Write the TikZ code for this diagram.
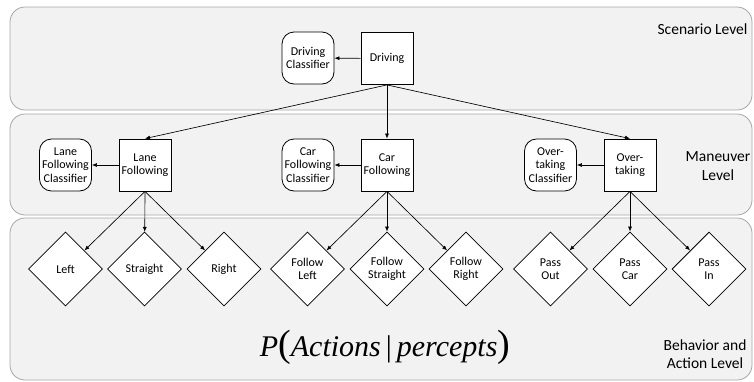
\documentclass[tikz,border=0pt]{standalone}
\usepackage{fontspec}
\setmainfont{Carlito}
\newfontfamily\tnr{Liberation Serif}
\usetikzlibrary{shapes.geometric,arrows.meta}
\begin{document}
\begin{tikzpicture}[x=1pt,y=-1pt,
 panel/.style={draw=black!35, fill=black!5, rounded corners=15pt, line width=0.8pt},
 box/.style={draw, fill=white, minimum width=52pt, minimum height=52pt, inner sep=0pt, align=center, font=\fontsize{12}{13.5}\selectfont, line width=0.8pt},
 clf/.style={box, rounded corners=12pt},
 dia/.style={diamond, draw, fill=white, minimum width=74pt, minimum height=74pt, inner sep=0pt, align=center, font=\fontsize{12}{13.5}\selectfont, line width=0.8pt},
 arr/.style={-{Latex[length=5pt,width=4pt]}, line width=0.65pt},
 lvl/.style={font=\fontsize{15.5}{18.5}\selectfont, align=center}
]
\useasboundingbox (0,0) rectangle (754,381);
% panels
\draw[panel] (10,7) rectangle (752,110);
\draw[panel] (10,114) rectangle (752,215);
\draw[panel] (10,218) rectangle (752,380);
% level labels
\node[lvl, anchor=east] (lscen) at (751,29) {Scenario Level};
\node[lvl] (lman) at (718,166) {Maneuver\\Level};
\node[lvl] (lbeh) at (705,354) {Behavior and\\Action Level};
% scenario level
\node[box] (drv) at (387,58.5) {Driving};
\node[clf] (drvc) at (308,58) {Driving\\Classifier};
% maneuver level
\node[box] (lf) at (145,165) {Lane\\Following};
\node[clf] (lfc) at (65.5,165) {Lane\\Following\\Classifier};
\node[box] (cf) at (387,165) {Car\\Following};
\node[clf] (cfc) at (308,165) {Car\\Following\\Classifier};
\node[box] (ot) at (630,165) {Over-\\taking};
\node[clf] (otc) at (550.5,165) {Over-\\taking\\Classifier};
% behaviour level
\node[dia] (d1) at (65.5,269) {Left};
\node[dia] (d2) at (144.5,269) {Straight};
\node[dia] (d3) at (224,269) {Right};
\node[dia] (d4) at (307.5,269) {Follow\\Left};
\node[dia] (d5) at (387,269) {Follow\\Straight};
\node[dia] (d6) at (466,269) {Follow\\Right};
\node[dia] (d7) at (550.5,269) {Pass\\Out};
\node[dia] (d8) at (630,269) {Pass\\Car};
\node[dia] (d9) at (709,269) {Pass\\In};
% formula
\node (form) at (385,347) {\tnr\fontsize{30}{30}\selectfont\itshape P{\upshape\fontsize{38}{38}\selectfont(}Actions\,{\upshape|}\,percepts{\upshape\fontsize{38}{38}\selectfont)}};
% arrows
\draw[arr] (drv) -- (drvc);
\draw[arr] (lf) -- (lfc);
\draw[arr] (cf) -- (cfc);
\draw[arr] (ot) -- (otc);
\draw[arr] (drv.south) -- (lf.north);
\draw[arr] (drv.south) -- (cf.north);
\draw[arr] (drv.south) -- (ot.north);
\foreach \s/\a/\b/\c in {lf/d1/d2/d3, cf/d4/d5/d6, ot/d7/d8/d9}{
  \draw[arr] (\s.south) -- (\a);
  \draw[arr] (\s.south) -- (\b);
  \draw[arr] (\s.south) -- (\c);
}
\end{tikzpicture}
\end{document}
